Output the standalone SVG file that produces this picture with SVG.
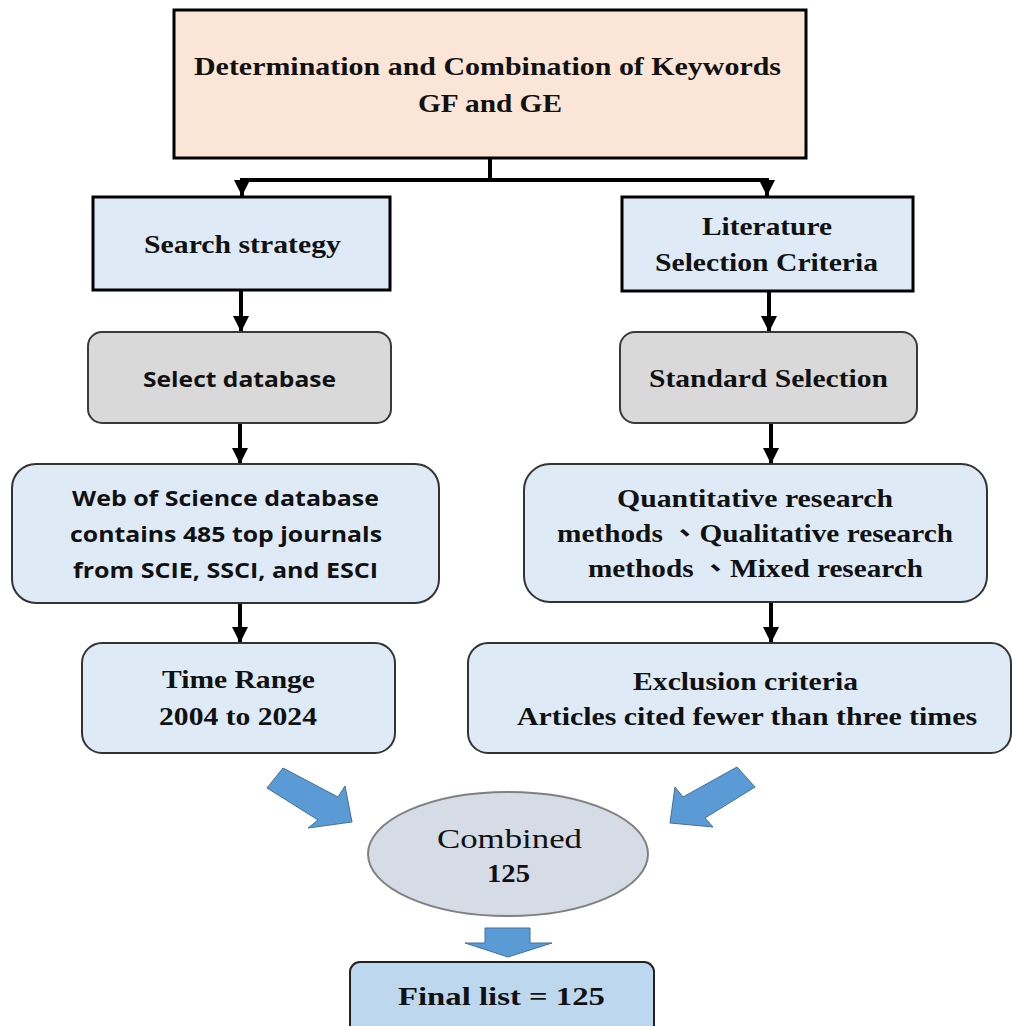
<svg xmlns="http://www.w3.org/2000/svg" width="1012" height="1026" viewBox="0 0 1012 1026">
<style>
.sq{fill:#deebf7;stroke:#000;stroke-width:3}
.top{fill:#fbe5d6;stroke:#000;stroke-width:3}
.gray{fill:#d9d9d9;stroke:#3a3a3a;stroke-width:2}
.blue{fill:#deebf7;stroke:#333;stroke-width:2}
.fin{fill:#bdd7ee;stroke:#222;stroke-width:2}
.ell{fill:#d6dce5;stroke:#808080;stroke-width:2}
.ser{font-family:"Liberation Serif","Times New Roman","Noto Sans CJK TC",serif;font-weight:700;font-size:25px;fill:#111;text-anchor:middle}
.reg{font-family:"Liberation Serif","Times New Roman",serif;font-weight:400;font-size:28px;fill:#111;text-anchor:middle}
.sans{font-family:"Open Sans","Liberation Sans",sans-serif;font-weight:bold;font-size:21px;fill:#111;text-anchor:middle}
.ln{fill:none;stroke:#000;stroke-width:4}
.blk{fill:#5b9bd5;stroke:#41719c;stroke-width:1}
</style>
<defs>
<marker id="ah" markerUnits="userSpaceOnUse" markerWidth="18" markerHeight="16" refX="16" refY="8" orient="auto">
<path d="M0,0 L16,8 L0,16 Z" fill="#000"/>
</marker>
</defs>

<g id="connectors">
<path class="ln" d="M490,158 V180"/>
<path class="ln" d="M240,180 H769"/>
<path class="ln" d="M242,178 V196" marker-end="url(#ah)"/>
<path class="ln" d="M767,178 V196" marker-end="url(#ah)"/>
<path class="ln" d="M241,291 V332" marker-end="url(#ah)"/>
<path class="ln" d="M769,292 V332" marker-end="url(#ah)"/>
<path class="ln" d="M240,424 V464" marker-end="url(#ah)"/>
<path class="ln" d="M771,424 V464" marker-end="url(#ah)"/>
<path class="ln" d="M240,604 V643" marker-end="url(#ah)"/>
<path class="ln" d="M771,603 V643" marker-end="url(#ah)"/>
<polygon class="blk" points="283,768 338,797 345,786 352,822 308,828 318,820 267,788"/>
<polygon class="blk" points="737,767 755,787 705,818 713,827 670,823 675,787 683,797"/>
<polygon class="blk" points="485,928 530,928 530,943 552,943 508,957 465,943 485,943"/>
</g>

<g id="keywords">
<rect class="top" x="174" y="10" width="632" height="148"/>
<text class="ser" x="487.5" y="75" font-size="26" textLength="587" lengthAdjust="spacingAndGlyphs">Determination and Combination of Keywords</text>
<text class="ser" x="490" y="112" font-size="26" textLength="144" lengthAdjust="spacingAndGlyphs">GF and GE</text>
</g>

<g id="search-strategy">
<rect class="sq" x="93" y="197" width="297" height="93"/>
<text class="ser" x="242.5" y="253" textLength="197" lengthAdjust="spacingAndGlyphs">Search strategy</text>
</g>

<g id="literature-criteria">
<rect class="sq" x="622" y="197" width="291" height="94"/>
<text class="ser" x="767" y="235" textLength="130" lengthAdjust="spacingAndGlyphs">Literature</text>
<text class="ser" x="766.5" y="271" textLength="223" lengthAdjust="spacingAndGlyphs">Selection Criteria</text>
</g>

<g id="select-database">
<rect class="gray" x="88" y="332" width="303" height="91" rx="14"/>
<text class="sans" x="239.5" y="387" textLength="193" lengthAdjust="spacingAndGlyphs">Select database</text>
</g>

<g id="standard-selection">
<rect class="gray" x="620" y="332" width="297" height="91" rx="15"/>
<text class="ser" x="768.5" y="387" textLength="239" lengthAdjust="spacingAndGlyphs">Standard Selection</text>
</g>

<g id="web-of-science">
<rect class="blue" x="12" y="464" width="427" height="139" rx="24"/>
<text class="sans" x="225.5" y="506" textLength="307" lengthAdjust="spacingAndGlyphs">Web of Science database</text>
<text class="sans" x="226" y="542" textLength="312" lengthAdjust="spacingAndGlyphs">contains 485 top journals</text>
<text class="sans" x="225.5" y="578" textLength="305" lengthAdjust="spacingAndGlyphs">from SCIE, SSCI, and ESCI</text>
</g>

<g id="research-methods">
<rect class="blue" x="524" y="464" width="463" height="138" rx="26"/>
<text class="ser" x="755" y="507" textLength="276" lengthAdjust="spacingAndGlyphs">Quantitative research</text>
<text class="ser" x="755" y="542" textLength="396" lengthAdjust="spacingAndGlyphs">methods 、Qualitative research</text>
<text class="ser" x="755.5" y="577" textLength="335" lengthAdjust="spacingAndGlyphs">methods 、Mixed research</text>
</g>

<g id="time-range">
<rect class="blue" x="82" y="643" width="313" height="110" rx="20"/>
<text class="ser" x="238.5" y="688" textLength="153" lengthAdjust="spacingAndGlyphs">Time Range</text>
<text class="ser" x="238" y="725" textLength="158" lengthAdjust="spacingAndGlyphs">2004 to 2024</text>
</g>

<g id="exclusion-criteria">
<rect class="blue" x="468" y="643" width="543" height="110" rx="20"/>
<text class="ser" x="745.5" y="690" textLength="225" lengthAdjust="spacingAndGlyphs">Exclusion criteria</text>
<text class="ser" x="747" y="725" textLength="460" lengthAdjust="spacingAndGlyphs">Articles cited fewer than three times</text>
</g>

<g id="combined">
<ellipse class="ell" cx="508" cy="854" rx="140" ry="62"/>
<text class="reg" x="509.5" y="848" textLength="145" lengthAdjust="spacingAndGlyphs">Combined</text>
<text class="ser" x="508.5" y="882" font-size="26" textLength="43" lengthAdjust="spacingAndGlyphs">125</text>
</g>

<g id="final-list">
<rect class="fin" x="350" y="962" width="304" height="80" rx="10"/>
<text class="ser" x="501.5" y="1005" font-size="27" textLength="207" lengthAdjust="spacingAndGlyphs">Final list = 125</text>
</g>
</svg>
